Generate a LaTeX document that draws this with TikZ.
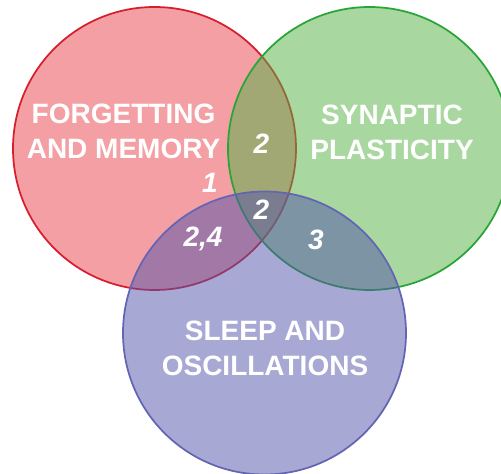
\documentclass[tikz,border=0pt]{standalone}
\usepackage{fontspec}
\newfontfamily\vennfont{Liberation Sans}
\definecolor{memred}{RGB}{233,65,75}
\definecolor{memline}{RGB}{214,30,45}
\definecolor{plasgreen}{RGB}{83,177,67}
\definecolor{plasline}{RGB}{40,165,55}
\definecolor{sleepblue}{RGB}{83,83,171}
\definecolor{sleepline}{RGB}{100,100,180}

\begin{document}
\begin{tikzpicture}[x=0.75pt, y=-0.75pt,
    venn/.style={circle, minimum size=212.25pt, inner sep=0pt, line width=1.3pt, fill opacity=0.5, draw opacity=1},
    title/.style={text=white, align=center, anchor=base, font=\vennfont\bfseries\fontsize{21}{26.25}\selectfont},
    count/.style={text=white, anchor=base, inner sep=0pt, font=\vennfont\bfseries\itshape\fontsize{21}{26}\selectfont}]
        \path[fill=white, use as bounding box] (0,0) rectangle (501,474);

        % Circles
        \node[venn, fill=memred, draw=memline] (memory) at (154.5,148.5) {};
        \node[venn, fill=plasgreen, draw=plasline] (plasticity) at (369.5,148.5) {};
        \node[venn, fill=sleepblue, draw=sleepline] (sleep) at (264.5,333) {};

        % Titles (base = last line)
        \node[title] (memtitle) at (123.5,159) {FORGETTING\\AND MEMORY};
        \node[title] (plastitle) at (392,160) {SYNAPTIC\\PLASTICITY};
        \node[title] (sleeptitle) at (265,376) {SLEEP AND\\OSCILLATIONS};

        % Numbers
        \node[count] (memplas) at (261.5,154) {2};
        \node[count] (memonly) at (210,193) {1};
        \node[count] (allthree) at (261.5,220) {2};
        \node[count] (memsleep) at (203,247) {2,4};
        \node[count] (plassleep) at (316,250) {3};
    \end{tikzpicture}
\end{document}
